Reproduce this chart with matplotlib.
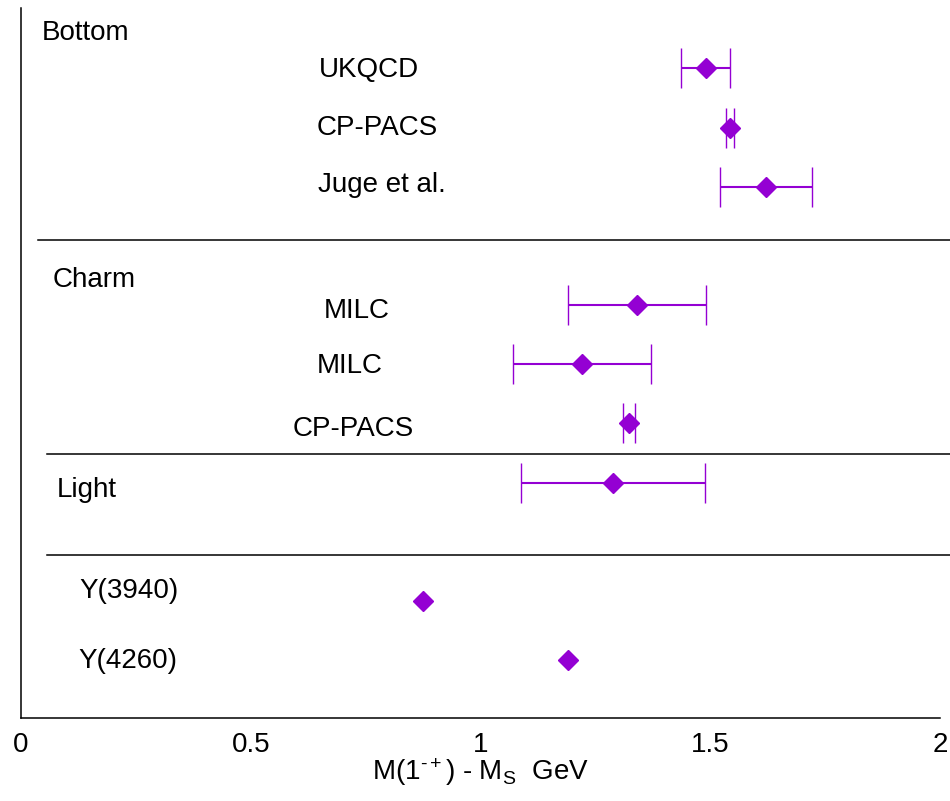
import matplotlib
matplotlib.use("Agg")
import matplotlib.pyplot as plt

# fonts: Arial-like look
plt.rcParams['font.family'] = ['Liberation Sans', 'DejaVu Sans']
plt.rcParams['mathtext.fontset'] = 'custom'
plt.rcParams['mathtext.rm'] = 'Liberation Sans'
plt.rcParams['mathtext.it'] = 'Liberation Sans'

# data: M(1-+) - M_S in GeV, one row per calculation / state
bottom_labels = ["UKQCD", "CP-PACS", "Juge et al."]
bottom_vals = [1.490, 1.543, 1.621]
bottom_errs = [0.054, 0.008, 0.100]

charm_labels = ["MILC", "MILC", "CP-PACS"]
charm_vals = [1.341, 1.221, 1.323]
charm_errs = [0.150, 0.150, 0.013]

light_vals = [1.288]
light_errs = [0.200]

exp_labels = ["Y(3940)", "Y(4260)"]
exp_vals = [0.875, 1.190]

group_labels = ["Bottom", "Charm", "Light"]

# row positions (top to bottom)
bottom_rows = [0, 1, 2]
charm_rows = [4, 5, 6]
light_rows = [7]
exp_rows = [9, 10]

# layout of the text labels (x in GeV units, baseline offset in rows)
bottom_lab_x = [0.649, 0.644, 0.646]
bottom_lab_dy = [0.15, 0.13, 0.09]
charm_lab_x = [0.659, 0.644, 0.592]
charm_lab_dy = [0.22, 0.15, 0.21]
exp_lab_x = [0.128, 0.124]
exp_lab_dy = [-0.05, 0.13]
group_lab_x = [0.046, 0.068, 0.078]
group_lab_y = [-0.48, 3.70, 7.25]

# separators between groups
sep_rows = [2.90, 6.52, 8.23]
sep_start = [0.0185, 0.0283, 0.0283]

purple = '#9400D3'
fs = 20

fig = plt.figure(figsize=(9.5, 8.01), dpi=100)
ax = fig.add_axes([0.0221, 0.1036, 0.9674, 0.8864])

eb_kw = dict(fmt='D', color=purple, ms=10.5, mec=purple, mew=1,
             elinewidth=1.5, capsize=14.4, capthick=1.5)
ax.errorbar(bottom_vals, bottom_rows, xerr=bottom_errs, **eb_kw)
ax.errorbar(charm_vals, charm_rows, xerr=charm_errs, **eb_kw)
ax.errorbar(light_vals, light_rows, xerr=light_errs, **eb_kw)
ax.plot(exp_vals, exp_rows, 'D', color=purple, ms=10.5, mec=purple, mew=1)

for lab, x, r, dy in zip(bottom_labels, bottom_lab_x, bottom_rows, bottom_lab_dy):
    ax.text(x, r + dy, lab, fontsize=fs, va='baseline', ha='left')
for lab, x, r, dy in zip(charm_labels, charm_lab_x, charm_rows, charm_lab_dy):
    ax.text(x, r + dy, lab, fontsize=fs, va='baseline', ha='left')
for lab, x, r, dy in zip(exp_labels, exp_lab_x, exp_rows, exp_lab_dy):
    ax.text(x, r + dy, lab, fontsize=fs, va='baseline', ha='left')
for lab, x, y in zip(group_labels, group_lab_x, group_lab_y):
    ax.text(x, y, lab, fontsize=fs, va='baseline', ha='left')

for y, x0 in zip(sep_rows, sep_start):
    ax.axhline(y, xmin=x0, xmax=1.011, color='black', lw=1.1, clip_on=False)

ax.set_xlim(0, 2)
ax.set_ylim(10.98, -1.02)
ax.set_xticks([0, 0.5, 1, 1.5, 2])
ax.set_xticklabels(['0', '0.5', '1', '1.5', '2'])
ax.set_yticks([])
ax.tick_params(axis='x', length=0, labelsize=fs, pad=10)
ax.set_xlabel('M(1$^{\u2010+}$) - M$_{\\mathrm{S}}$  GeV', fontsize=fs, labelpad=-1)

for side in ['top', 'right']:
    ax.spines[side].set_visible(False)
for side in ['left', 'bottom']:
    ax.spines[side].set_linewidth(1.1)

fig.savefig('out.png', dpi=100, facecolor='white')
